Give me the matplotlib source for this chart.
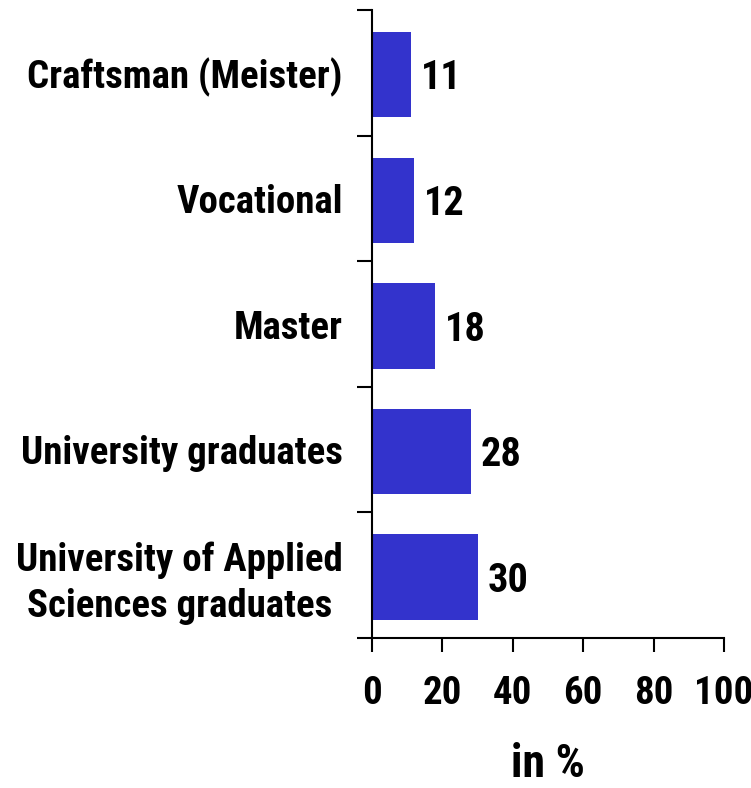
import matplotlib
matplotlib.use("Agg")
import matplotlib.pyplot as plt
import numpy as np
from matplotlib.ticker import FixedLocator, NullFormatter

categories = ["Craftsman (Meister)", "Vocational", "Master", "University graduates",
              "University of Applied\nSciences graduates"]
values = [11, 12, 18, 28, 30]
xticks = [0, 20, 40, 60, 80, 100]
xlabel = "in %"

plt.rcParams['font.family'] = ['Roboto Condensed', 'DejaVu Sans']
plt.rcParams['font.weight'] = 'bold'

fig = plt.figure(figsize=(7.51, 7.88), dpi=100)
ax = fig.add_axes([372/751, 1-638/788, (724-372)/751, (638-10)/788])

n = len(categories)
ypos = np.arange(n)[::-1]  # first category at top
ax.barh(ypos - 0.015, values, height=0.68, color='#3333CC', edgecolor='none')
for y, v in zip(ypos, values):
    ax.text(v + 2.8, y - 0.045, str(v), va='center', ha='left', fontsize=29, fontweight='bold')

ax.set_xlim(0, 100)
ax.set_ylim(-0.5, n - 0.5)
ax.set_xticks(xticks)
ax.set_xticklabels([str(t) for t in xticks], fontsize=28, fontweight='bold')
ax.tick_params(axis='x', length=10, width=1.5, pad=17)

# boundaries as major ticks, labels at centers as minor ticks
ax.yaxis.set_major_locator(FixedLocator(np.arange(n + 1) - 0.5))
ax.yaxis.set_major_formatter(NullFormatter())
ax.yaxis.set_minor_locator(FixedLocator(ypos))
ax.set_yticklabels(categories, minor=True, fontsize=28, fontweight='bold',
                   multialignment='center', linespacing=1.3)
ax.tick_params(axis='y', which='major', length=11, width=1.5)
ax.tick_params(axis='y', which='minor', length=0, pad=21)

for s in ['top', 'right']:
    ax.spines[s].set_visible(False)
for s in ['left', 'bottom']:
    ax.spines[s].set_linewidth(1.5)

ax.set_xlabel(xlabel, fontsize=33, fontweight='bold', labelpad=21)

fig.savefig("out.png", dpi=100)
